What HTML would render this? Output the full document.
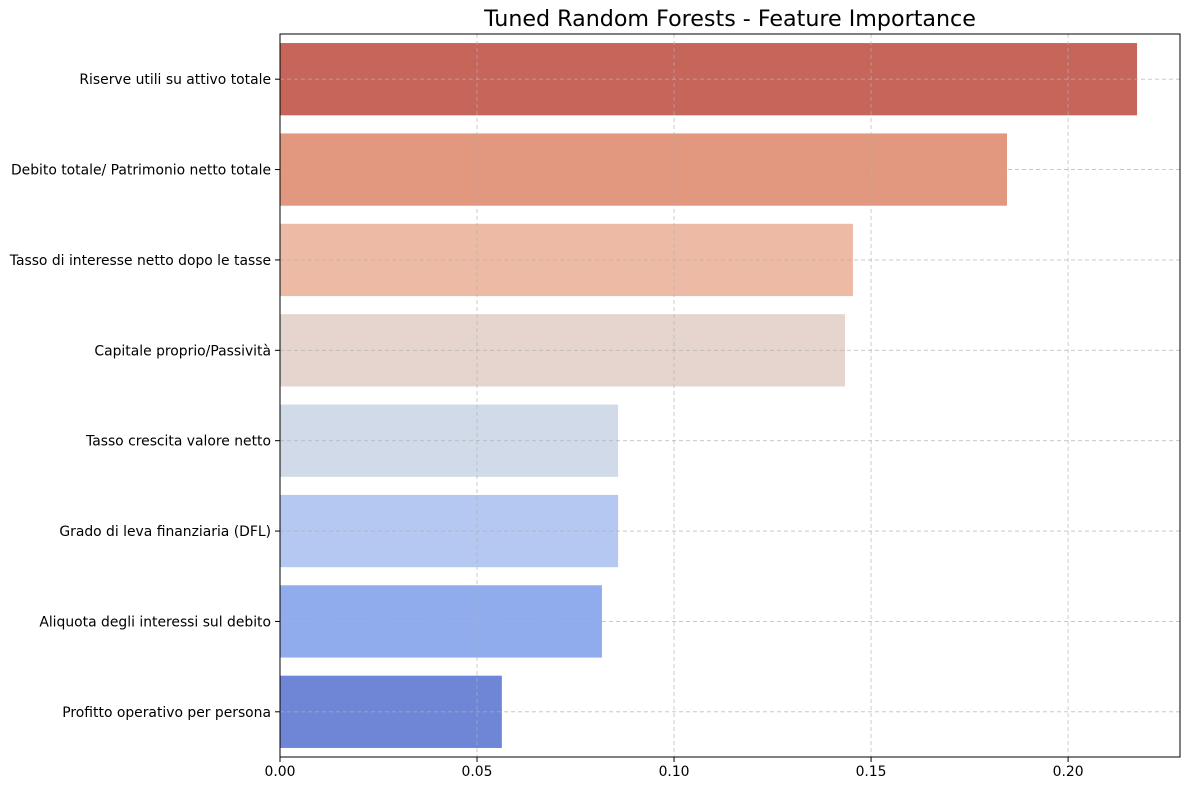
<!DOCTYPE html>
<html><head><meta charset="utf-8"><style>
body{margin:0;background:#fff;font-family:"DejaVu Sans","Liberation Sans",sans-serif;}
</style></head><body>
<svg id="chart" width="1189" height="790" xmlns="http://www.w3.org/2000/svg" font-family="DejaVu Sans, Liberation Sans, sans-serif">
<text x="730" y="26" text-anchor="middle" font-size="22.2" fill="#000">Tuned Random Forests - Feature Importance</text>
<g id="bars"></g><g id="grid"></g><g id="axes"></g>
</svg>
<script>
const categories=["Riserve utili su attivo totale","Debito totale/ Patrimonio netto totale","Tasso di interesse netto dopo le tasse","Capitale proprio/Passività","Tasso crescita valore netto","Grado di leva finanziaria (DFL)","Aliquota degli interessi sul debito","Profitto operativo per persona"];
const importance=[0.2175,0.1845,0.1454,0.1434,0.0858,0.0858,0.0817,0.0563];
const barColors=["#c6665a","#e2977f","#edbba5","#e5d5ce","#d0dae8","#b5c8f2","#91acec","#6f85d6"];
const xTicks=[0,0.05,0.10,0.15,0.20];
const xTickLabels=["0.00","0.05","0.10","0.15","0.20"];
const L=280,R=1180,T=34,B=757,xMax=0.2284;
const NS="http://www.w3.org/2000/svg";
const x=v=>L+v/xMax*(R-L);
const band=(B-T)/categories.length;
const yc=i=>T+band*(i+0.5);
function mk(t,a,p){const e=document.createElementNS(NS,t);for(const k in a)e.setAttribute(k,a[k]);p.appendChild(e);return e;}
const grid=document.getElementById('grid'),bars=document.getElementById('bars'),axes=document.getElementById('axes');
xTicks.forEach((v,i)=>{
 const g=mk('line',{x1:x(v),x2:x(v),y1:T,y2:B,stroke:'#b0b0b0','stroke-width':0.8,'stroke-dasharray':'4,3','stroke-opacity':0.8},grid);
 
 
 mk('line',{x1:x(v),x2:x(v),y1:B,y2:B+5,stroke:'#000'},axes);
 const t=mk('text',{x:x(v),y:B+19,'text-anchor':'middle','font-size':13.9},axes);t.textContent=xTickLabels[i];
 
 
});
categories.forEach((c,i)=>{
 const g=mk('line',{x1:L,x2:R,y1:yc(i),y2:yc(i),stroke:'#b0b0b0','stroke-width':0.8,'stroke-dasharray':'4,3','stroke-opacity':0.8},grid);
 
 
 const h=band*0.8;
 const r=mk('rect',{x:L,y:yc(i)-h/2,width:x(importance[i])-L,height:h,fill:barColors[i]},bars);
 
 
 mk('line',{x1:L-5,x2:L,y1:yc(i),y2:yc(i),stroke:'#000'},axes);
 const t=mk('text',{x:L-9,y:yc(i)+5,'text-anchor':'end','font-size':13.9},axes);t.textContent=c;
 
 
});
const f=mk('rect',{x:L,y:T,width:R-L,height:B-T,fill:'none',stroke:'#000','stroke-width':1},axes);


</script>
</body></html>
